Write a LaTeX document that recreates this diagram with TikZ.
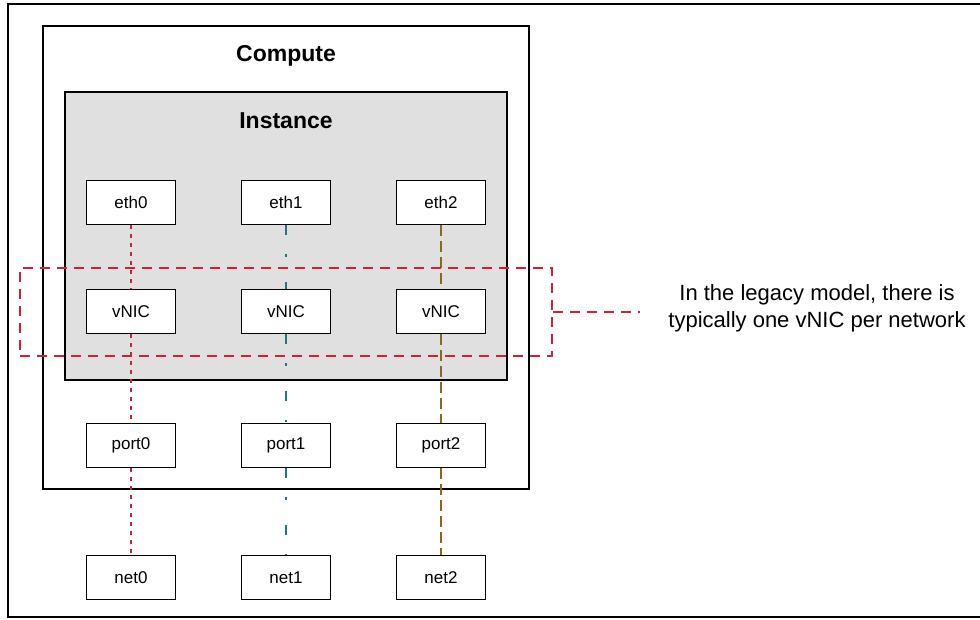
\documentclass[tikz,border=0pt]{standalone}
\usepackage{fontspec}
\setmainfont{Liberation Sans}
\definecolor{cred}{HTML}{CC2233}
\definecolor{cteal}{HTML}{1A7A80}
\definecolor{colive}{HTML}{8B6A10}
\definecolor{cgray}{HTML}{E0E0E0}
\begin{document}
\begin{tikzpicture}[x=1pt,y=-1pt,
  box/.style={draw=black, line width=1.6pt, fill=white, minimum width=89pt, minimum height=44pt, inner sep=0pt, font=\fontsize{17}{20}\selectfont},
  title/.style={font=\bfseries\fontsize{23}{27}\selectfont},
  redline/.style={cred, line width=2pt, dash pattern=on 3.5pt off 5.5pt},
  tealline/.style={cteal, line width=2pt, dash pattern=on 10pt off 19pt on 2.5pt off 25pt},
  oliveline/.style={colive, line width=2pt, dash pattern=on 11pt off 5pt},
  highlight/.style={cred, line width=2pt, dash pattern=on 10pt off 7pt},
]
\useasboundingbox (0,0) rectangle (980,620);
% outer frame
\draw[line width=2pt] (985,4) -- (8,4) -- (8,617) -- (985,617);
% compute
\node[draw, line width=1.8pt, minimum width=486pt, minimum height=463pt, inner sep=0pt] (compute) at (286,257.5) {};
\node[title] (computelbl) at (286,56) {Compute};
% instance
\node[draw, line width=1.8pt, fill=cgray, minimum width=442pt, minimum height=288pt, inner sep=0pt] (instance) at (286,236) {};
\node[title] (instancelbl) at (286,120.5) {Instance};
% nodes
\foreach \i/\x in {0/131,1/286,2/441}{
  \node[box] (eth\i) at (\x,202.5) {eth\i};
  \node[box] (vnic\i) at (\x,311.5) {vNIC};
  \node[box] (port\i) at (\x,445.5) {port\i};
  \node[box] (net\i) at (\x,577.5) {net\i};
}
% connectors
\draw[redline] (eth0.south) -- (vnic0.north);
\draw[redline] (vnic0.south) -- (port0.north);
\draw[redline] (port0.south) -- (net0.north);
\draw[tealline] (eth1.south) -- (vnic1.north);
\draw[tealline] (vnic1.south) -- (port1.north);
\draw[tealline] (port1.south) -- (net1.north);
\draw[oliveline] (eth2.south) -- (vnic2.north);
\draw[oliveline] (vnic2.south) -- (port2.north);
\draw[oliveline] (port2.south) -- (net2.north);
% highlight
\node[highlight, draw=cred, minimum width=532pt, minimum height=88pt, inner sep=0pt] (hl) at (286,312) {};
\coordinate (hlend) at (640,312);
\draw[highlight] (hl.east) -- (hlend);
\node[font=\fontsize{22}{27}\selectfont, align=center] (note) at (817,308) {In the legacy model, there is\\typically one vNIC per network};
\end{tikzpicture}
\end{document}
